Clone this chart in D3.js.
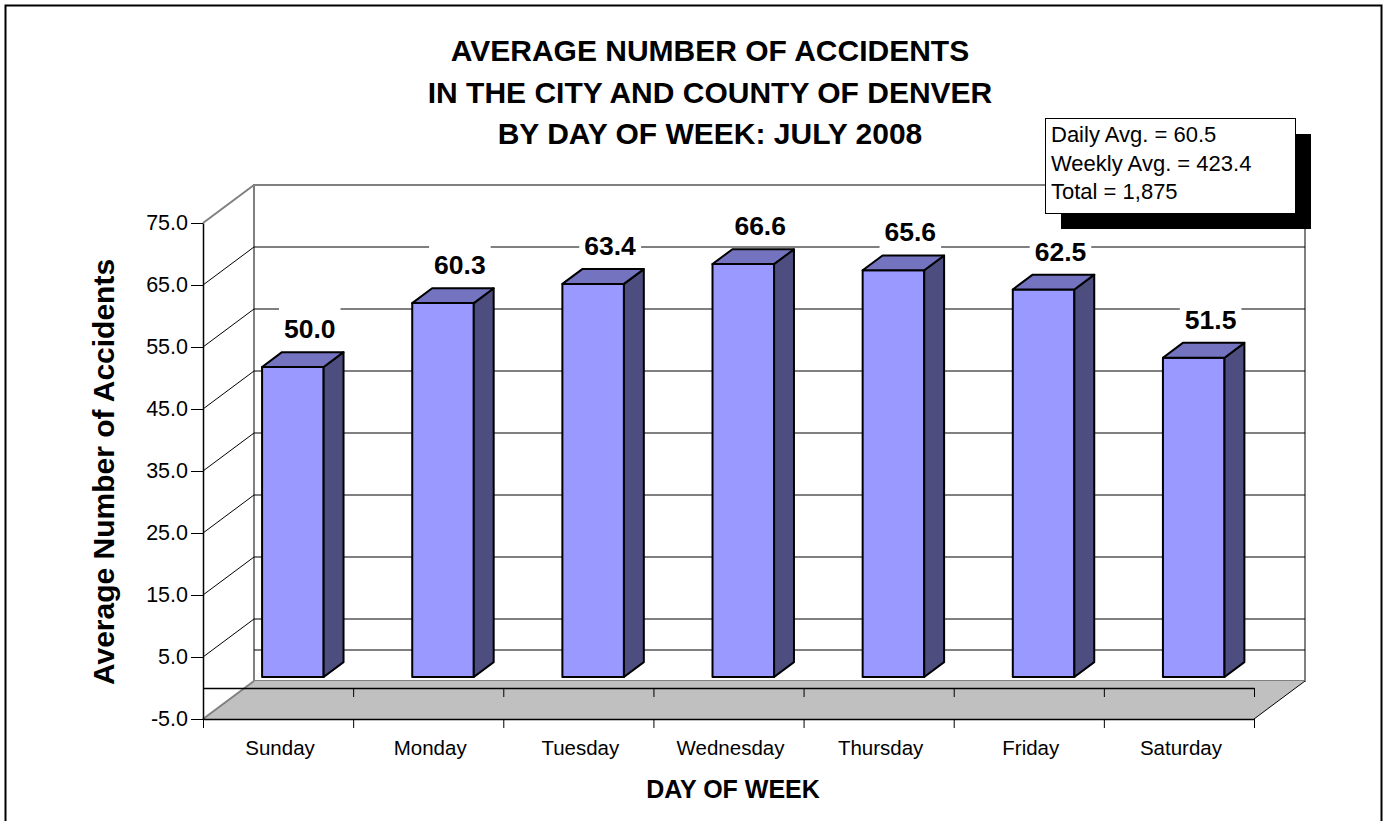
<!DOCTYPE html>
<html>
<head>
<meta charset="utf-8">
<script src="https://cdn.jsdelivr.net/npm/d3@7"></script>
<style>
  body { margin: 0; background: #fff; }
  text { font-family: Arial, "Liberation Sans", sans-serif; fill: #000; }
</style>
</head>
<body>
<svg id="chart"></svg>
<script>
// data
const days = ["Sunday", "Monday", "Tuesday", "Wednesday", "Thursday", "Friday", "Saturday"];
const avgAccidents = [50.0, 60.3, 63.4, 66.6, 65.6, 62.5, 51.5];
const yTicks = [-5, 5, 15, 25, 35, 45, 55, 65, 75];
const backGrid = [0, 5, 15, 25, 35, 45, 55, 65];
const sideGrid = [5, 15, 25, 35, 45, 55, 65];
const titleLines = ["AVERAGE NUMBER OF ACCIDENTS", "IN THE CITY AND COUNTY OF DENVER", "BY DAY OF WEEK: JULY 2008"];
const statsLines = ["Daily Avg. = 60.5", "Weekly Avg. = 423.4", "Total = 1,875"];

const WIDTH = 1385, HEIGHT = 821;
const SVG = d3.select('#chart').attr('width', WIDTH).attr('height', HEIGHT);

// front plane + depth offset (fake 3d like excel)
const LEFT = 203, RIGHT = 1254;
const DX = 51, DY = -38;
const zFront = 0.29, zBack = 0.68;   // bar depth inside the box
const barFrac = 0.41;

const x = d3.scaleBand().domain(days).range([LEFT, RIGHT]);
const xEdge = d3.scaleLinear().domain([0, days.length]).range([LEFT, RIGHT]);
const y = d3.scaleLinear().domain([-5, 75]).range([719, 223]);
const proj = (px, v, z) => [px + DX * z, y(v) + DY * z];
const pts = arr => arr.map(p => p.join(',')).join(' ');

// outer frame
SVG.append('rect')
  .attr('x', 5.5).attr('y', 5.5).attr('width', 1376).attr('height', 830)
  .attr('fill', 'none').attr('stroke', '#000').attr('stroke-width', 2);

// back wall
SVG.append('polygon')
  .attr('points', pts([proj(LEFT, -5, 1), proj(RIGHT, -5, 1), proj(RIGHT, 75, 1), proj(LEFT, 75, 1)]))
  .attr('fill', '#fff').attr('stroke', '#808080').attr('stroke-width', 2);

SVG.append('g').selectAll('line')
  .data(backGrid).join('line')
  .attr('x1', d => proj(LEFT, d, 1)[0]).attr('y1', d => proj(LEFT, d, 1)[1])
  .attr('x2', d => proj(RIGHT, d, 1)[0]).attr('y2', d => proj(RIGHT, d, 1)[1])
  .attr('stroke', '#000').attr('stroke-width', 1);

// side wall diagonals
SVG.append('line')
  .attr('x1', proj(LEFT, 75, 0)[0]).attr('y1', proj(LEFT, 75, 0)[1])
  .attr('x2', proj(LEFT, 75, 1)[0]).attr('y2', proj(LEFT, 75, 1)[1])
  .attr('stroke', '#808080').attr('stroke-width', 2);
SVG.append('g').selectAll('line')
  .data(sideGrid).join('line')
  .attr('x1', d => proj(LEFT, d, 0)[0]).attr('y1', d => proj(LEFT, d, 0)[1])
  .attr('x2', d => proj(LEFT, d, 1)[0]).attr('y2', d => proj(LEFT, d, 1)[1])
  .attr('stroke', '#000').attr('stroke-width', 1);

// floor
SVG.append('polygon')
  .attr('points', pts([proj(LEFT, -5, 0), proj(RIGHT, -5, 0), proj(RIGHT, -5, 1), proj(LEFT, -5, 1)]))
  .attr('fill', '#c0c0c0');
SVG.append('line')
  .attr('x1', proj(LEFT, -5, 0)[0]).attr('y1', proj(LEFT, -5, 0)[1])
  .attr('x2', proj(LEFT, -5, 1)[0]).attr('y2', proj(LEFT, -5, 1)[1])
  .attr('stroke', '#808080').attr('stroke-width', 2);
SVG.append('line')
  .attr('x1', proj(RIGHT, -5, 0)[0]).attr('y1', proj(RIGHT, -5, 0)[1])
  .attr('x2', proj(RIGHT, -5, 1)[0]).attr('y2', proj(RIGHT, -5, 1)[1])
  .attr('stroke', '#000').attr('stroke-width', 1);

// y axis
const yAxis = d3.axisLeft(y)
  .tickValues(yTicks)
  .tickFormat(d => d.toFixed(1))
  .tickSize(12).tickSizeOuter(0).tickPadding(3);
const yg = SVG.append('g').attr('transform', `translate(${LEFT},0)`).call(yAxis);
yg.select('.domain').attr('stroke', '#000').attr('stroke-width', 1.5);
yg.selectAll('.tick line').attr('stroke', '#000');
yg.selectAll('.tick text').style('font-size', '21.5px').attr('fill', '#000');

// two category axis lines (value 0 and floor edge)
const xAxis = d3.axisBottom(xEdge)
  .tickValues(d3.range(days.length + 1))
  .tickFormat('')
  .tickSize(9).tickSizeOuter(0);
[0, -5].forEach(v => {
  const g = SVG.append('g').attr('transform', `translate(0,${y(v)})`).call(xAxis);
  g.select('.domain').attr('stroke', '#000').attr('stroke-width', 1.5);
  g.selectAll('.tick line').attr('stroke', '#000');
});

SVG.append('g').selectAll('text')
  .data(days).join('text')
  .attr('x', d => x(d) + x.bandwidth() / 2 + 2)
  .attr('y', 755)
  .attr('text-anchor', 'middle')
  .style('font-size', '20.5px')
  .text(d => d);

// bars
const bars = days.map((d, i) => ({ day: d, value: avgAccidents[i] }));
const bw = x.bandwidth() * barFrac;
const x0 = d => x(d.day) + (x.bandwidth() - bw) / 2;

const barG = SVG.append('g');
barG.selectAll('.front').data(bars).join('polygon')
  .attr('class', 'front')
  .attr('points', d => pts([proj(x0(d), 0, zFront), proj(x0(d) + bw, 0, zFront),
                            proj(x0(d) + bw, d.value, zFront), proj(x0(d), d.value, zFront)]))
  .attr('fill', '#9999ff').attr('stroke', '#000').attr('stroke-width', 2).attr('stroke-linejoin', 'round');
barG.selectAll('.side').data(bars).join('polygon')
  .attr('class', 'side')
  .attr('points', d => pts([proj(x0(d) + bw, 0, zFront), proj(x0(d) + bw, 0, zBack),
                            proj(x0(d) + bw, d.value, zBack), proj(x0(d) + bw, d.value, zFront)]))
  .attr('fill', '#4d4d80').attr('stroke', '#000').attr('stroke-width', 2).attr('stroke-linejoin', 'round');
barG.selectAll('.top').data(bars).join('polygon')
  .attr('class', 'top')
  .attr('points', d => pts([proj(x0(d), d.value, zFront), proj(x0(d) + bw, d.value, zFront),
                            proj(x0(d) + bw, d.value, zBack), proj(x0(d), d.value, zBack)]))
  .attr('fill', '#7373bf').attr('stroke', '#000').attr('stroke-width', 2).attr('stroke-linejoin', 'round');

// value labels with white boxes
const labG = SVG.append('g');
bars.forEach(d => {
  const p = proj(x(d.day) + x.bandwidth() / 2, d.value, zBack);
  const lx = p[0] - 3, ly = p[1] - 14;
  const bg = labG.append('rect').attr('fill', '#fff');
  const t = labG.append('text')
    .attr('x', lx).attr('y', ly)
    .attr('text-anchor', 'middle')
    .style('font-size', '26.5px').style('font-weight', 'bold')
    .text(d.value.toFixed(1));
  const bb = t.node().getBBox();
  bg.attr('x', bb.x - 5).attr('y', ly - 31).attr('width', bb.width + 10).attr('height', 39);
});

// titles
SVG.append('text')
  .attr('text-anchor', 'middle')
  .style('font-size', '30px').style('font-weight', 'bold')
  .selectAll('tspan').data(titleLines).join('tspan')
  .attr('x', 710).attr('y', (d, i) => 61 + i * 41.5)
  .text(d => d);

SVG.append('text')
  .attr('transform', 'translate(114,472) rotate(-90)')
  .attr('text-anchor', 'middle')
  .style('font-size', '30px').style('font-weight', 'bold')
  .text('Average Number of Accidents');

SVG.append('text')
  .attr('x', 733).attr('y', 798)
  .attr('text-anchor', 'middle')
  .style('font-size', '25px').style('font-weight', 'bold')
  .text('DAY OF WEEK');

// stats box with shadow
SVG.append('rect').attr('x', 1061).attr('y', 134).attr('width', 250).attr('height', 95).attr('fill', '#000');
SVG.append('rect').attr('x', 1045.5).attr('y', 118.5).attr('width', 250).attr('height', 95)
  .attr('fill', '#fff').attr('stroke', '#000').attr('stroke-width', 1);
SVG.append('g').selectAll('text')
  .data(statsLines).join('text')
  .attr('x', 1051).attr('y', (d, i) => 142 + i * 28.5)
  .style('font-size', '22px')
  .text(d => d);
</script>
</body>
</html>
